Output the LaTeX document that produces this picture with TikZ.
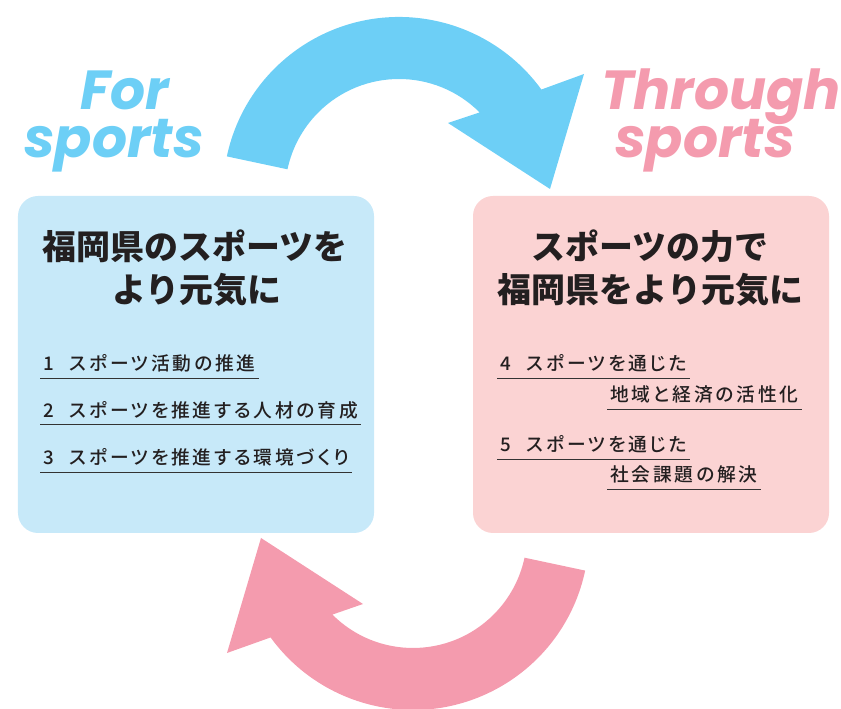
\documentclass[tikz,border=0pt]{standalone}
\usepackage{fontspec}
\usepackage{xcolor}
\usepackage{tikz}

\newfontfamily\cjk{Noto Sans CJK JP}
\newfontfamily\cjkgoal{Noto Sans CJK JP}[UprightFont={* Medium}, RawFeature=+palt, LetterSpace=15]
\newfontfamily\sportsfont{Poppins}

\definecolor{skyarrow}{HTML}{6DCFF6}
\definecolor{skypanel}{HTML}{C7E9F9}
\definecolor{rosearrow}{HTML}{F49BAE}
\definecolor{rosepanel}{HTML}{FBD3D3}
\definecolor{ink}{HTML}{231F20}
\definecolor{rulegray}{HTML}{333333}

\begin{document}
\begin{tikzpicture}[x=0.3mm, y=0.3mm,
    panel/.style={rectangle, rounded corners=6mm, minimum width=106.8mm, minimum height=101.1mm, inner sep=0pt},
    headline/.style={anchor=base, text=ink, font=\cjk\bfseries\fontsize{29}{34}\selectfont},
    goal/.style={anchor=base west, text=ink, inner xsep=2.5pt, inner ysep=0pt, text depth=6pt, font=\cjkgoal\fontsize{16}{19}\selectfont},
    slogan/.style={anchor=base, inner sep=0pt, text height=0.72em, text depth=0.12em, font=\sportsfont\bfseries\itshape\fontsize{47}{50}\selectfont},
    underline/.style={draw=rulegray, line width=0.9pt}
]
\useasboundingbox (0,0) rectangle (841,709);

% Panels
\node[panel, fill=skypanel] (forpanel) at (196,344.5) {};
\node[panel, fill=rosepanel] (throughpanel) at (651,344.5) {};

% Cycle arrows
\fill[skyarrow] (399,516) ++(168:52.8mm) arc[start angle=168, end angle=36, radius=52.8mm]
    -- (584,635) -- (550,520) -- (448,586) -- (479.6,596.6)
    arc[start angle=45, end angle=168, radius=34.2mm] -- cycle;
\fill[rosearrow] (413,175) ++(348:52.8mm) arc[start angle=348, end angle=216, radius=52.8mm]
    -- (227,56) -- (261,171) -- (363,105) -- (332.4,94.4)
    arc[start angle=225, end angle=348, radius=34.2mm] -- cycle;

% Slogans
\node[slogan, text=skyarrow] (forword) at (125,599) {For};
\node[slogan, text=skyarrow] (forsports) at (114,551) {sports};
\node[slogan, text=rosearrow] (throughword) at (721,599) {Through};
\node[slogan, text=rosearrow] (throughsports) at (705,551) {sports};

% Left panel text
\node[headline] (fortitle) at (195,449) {福岡県のスポーツを};
\node[headline] (fortitlend) at (197,406) {より元気に};
\node[goal] (goal1) at (40,338) {1\hspace{0.85em}スポーツ活動の推進};
\node[goal] (goal2) at (40,291.5) {2\hspace{0.85em}スポーツを推進する人材の育成};
\node[goal] (goal3) at (40,244) {3\hspace{0.85em}スポーツを推進する環境づくり};

% Right panel text
\node[headline] (throughtitle) at (650,449) {スポーツの力で};
\node[headline] (throughtitlend) at (650.5,406) {福岡県をより元気に};
\node[goal] (goal4) at (497,338) {4\hspace{0.85em}スポーツを通じた};
\node[goal] (goal4b) at (607,307) {地域と経済の活性化};
\node[goal] (goal5) at (497,257) {5\hspace{0.85em}スポーツを通じた};
\node[goal] (goal5b) at (607,227) {社会課題の解決};

% Underlines
\draw[underline] (goal1.south west) -- (goal1.south east);
\draw[underline] (goal2.south west) -- (goal2.south east);
\draw[underline] (goal3.south west) -- (goal3.south east);
\draw[underline] (goal4.south west) -- (goal4.south east);
\draw[underline] (goal4b.south west) -- (goal4b.south east);
\draw[underline] (goal5.south west) -- (goal5.south east);
\draw[underline] (goal5b.south west) -- (goal5b.south east);

\end{tikzpicture}
\end{document}
